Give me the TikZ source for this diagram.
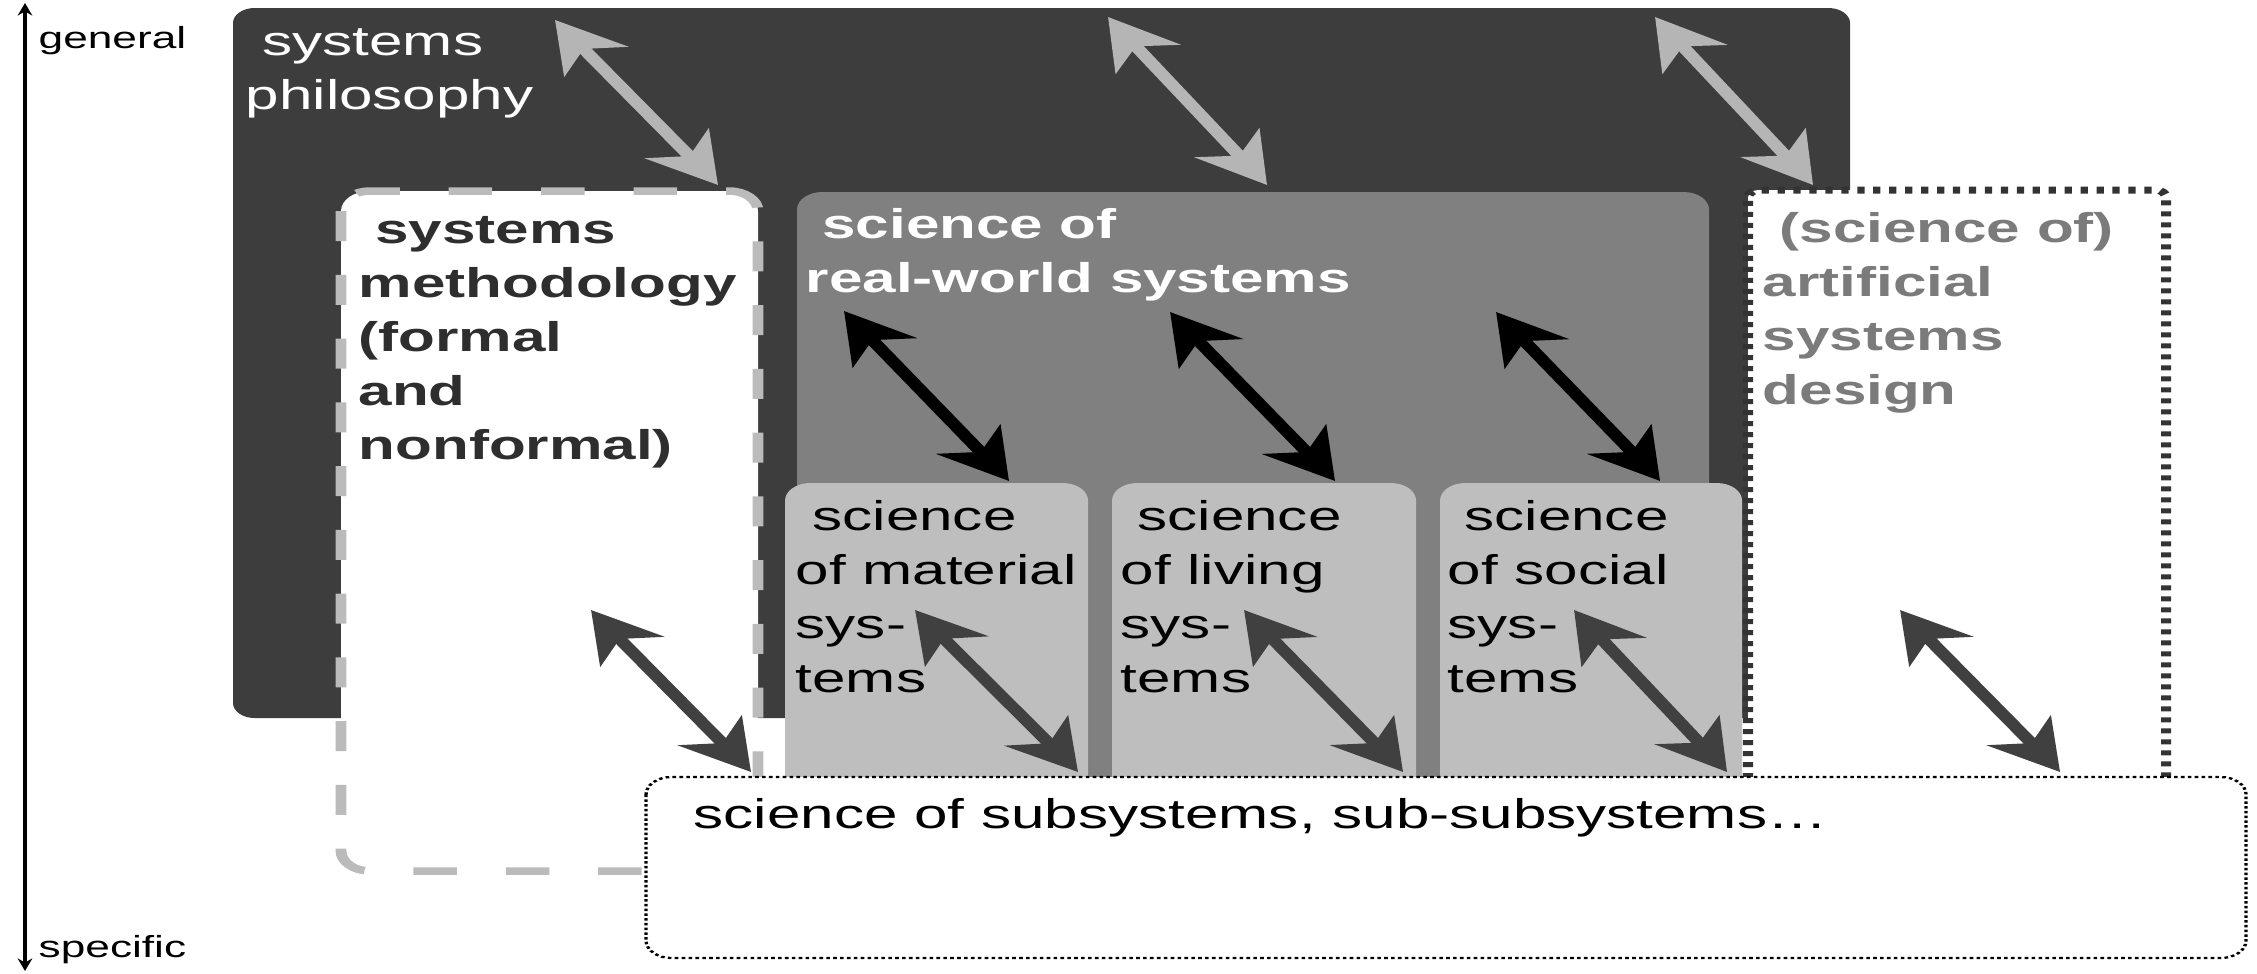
\documentclass[tikz,border=0pt]{standalone}
\usepackage{fontspec}
\setmainfont{Liberation Sans}
\usetikzlibrary{arrows.meta}
\definecolor{darkbg}{HTML}{3D3D3D}
\definecolor{midbg}{HTML}{808080}
\definecolor{lightbg}{HTML}{BEBEBE}
\definecolor{arrowlight}{HTML}{B5B5B5}
\definecolor{dashc}{HTML}{BBBBBB}
\definecolor{arrowdark}{HTML}{404040}
\definecolor{methc}{HTML}{2E2E2E}
\definecolor{artc}{HTML}{7B7B7B}
\definecolor{dotc}{HTML}{333333}
\newcommand\fbig{\fontsize{16.6pt}{21.6pt}\selectfont}
\newcommand\lns[1]{\begin{tabular}[t]{@{}l@{}}#1\end{tabular}}
\tikzset{
  lbl/.style={inner sep=0pt, anchor=base west, font=\fbig},
  axlbl/.style={inner sep=0pt, anchor=base west, font=\fontsize{12.2pt}{14pt}\selectfont},
  dbl/.style={line width=3.8pt,
    {Stealth[length=20pt,width=21pt,inset=6pt]}-{Stealth[length=20pt,width=21pt,inset=6pt]}},
  boxdark/.style={fill=darkbg, rounded corners=6pt},
  boxmeth/.style={fill=white, draw=dashc, line width=3pt, dash pattern=on 12pt off 13.5pt, rounded corners=8pt},
  boxreal/.style={fill=midbg, rounded corners=7pt},
  boxsub/.style={fill=lightbg, rounded corners=7pt},
  boxart/.style={fill=white, draw=dotc, line width=2.8pt, dash pattern=on 2pt off 2.4pt, rounded corners=3pt},
  boxbottom/.style={fill=white, draw=black, line width=0.9pt, dash pattern=on 1pt off 0.9pt, rounded corners=7pt}
}
\begin{document}
\begin{tikzpicture}[x=0.4pt,y=-0.4pt]
\fill[white] (0,0) rectangle (2257,973);
\useasboundingbox (0,0) rectangle (2257,973);
\begin{scope}[transform canvas={xscale=1.45}, x=0.275862pt, y=-0.4pt]
  % boxes
  \path[boxdark] (233,8) rectangle (1850,718);
  \path[boxmeth] (341,191) rectangle (758,871);
  \path[boxreal] (797,192) rectangle (1709,800);
  \path[boxsub] (785,483) rectangle (1088,800);
  \path[boxsub] (1112,483) rectangle (1416,800);
  \path[boxsub] (1440,483) rectangle (1742,800);
  \path[boxart] (1748,800) |- (2166,190) -- (2166,800);
  \path[boxbottom] (646,777) rectangle (2246,958);

  % texts
  \node[lbl, white] (phil) at (245,55) {\lns{\ systems\\philosophy}};
  \node[lbl, methc, font=\fbig\bfseries] (meth) at (358,243) {\lns{\ systems\\methodology\\(formal\\and\\nonformal)}};
  \node[lbl, white, font=\fbig\bfseries] (real) at (805,238) {\lns{\ science of\\real-world systems}};
  \node[lbl] (mat) at (795,530) {\lns{\ science\\of material\\sys-\\tems}};
  \node[lbl] (liv) at (1120,530) {\lns{\ science\\of living\\sys-\\tems}};
  \node[lbl] (soc) at (1447,530) {\lns{\ science\\of social\\sys-\\tems}};
  \node[lbl, artc, font=\fbig\bfseries] (art) at (1762,242) {\lns{\ (science of)\\artificial\\systems\\design}};
  \node[lbl] (subsys) at (693,828) {science of subsystems, sub-subsystems…};
  \node[axlbl] (gen) at (38,48) {general};
  \node[axlbl] (spec) at (38,957) {specific};

  % axis
  \coordinate (axtop) at (25,3);
  \coordinate (axbot) at (25,971);
  \draw[line width=0.9pt, {Stealth[length=5pt,width=4pt]}-{Stealth[length=5pt,width=4pt]}] (axtop) -- (axbot);

  % light grey arrows
  \coordinate (ga1) at (555,20);   \coordinate (gb1) at (718,185);
  \coordinate (ga2) at (1108,17);  \coordinate (gb2) at (1267,185);
  \coordinate (ga3) at (1655,17);  \coordinate (gb3) at (1813,185);
  \foreach \i in {1,2,3} \draw[dbl, arrowlight] (ga\i) -- (gb\i);

  % black arrows
  \coordinate (ba1) at (844,311);  \coordinate (bb1) at (1009,481);
  \coordinate (ba2) at (1170,312); \coordinate (bb2) at (1335,481);
  \coordinate (ba3) at (1496,312); \coordinate (bb3) at (1660,481);
  \foreach \i in {1,2,3} \draw[dbl, black] (ba\i) -- (bb\i);

  % dark grey arrows
  \coordinate (da1) at (591,610);  \coordinate (db1) at (751,772);
  \coordinate (da2) at (915,610);  \coordinate (db2) at (1078,772);
  \coordinate (da3) at (1244,610); \coordinate (db3) at (1403,772);
  \coordinate (da4) at (1574,610); \coordinate (db4) at (1727,772);
  \coordinate (da5) at (1900,610); \coordinate (db5) at (2060,772);
  \foreach \i in {1,...,5} \draw[dbl, arrowdark] (da\i) -- (db\i);
\end{scope}
\end{tikzpicture}
\end{document}
